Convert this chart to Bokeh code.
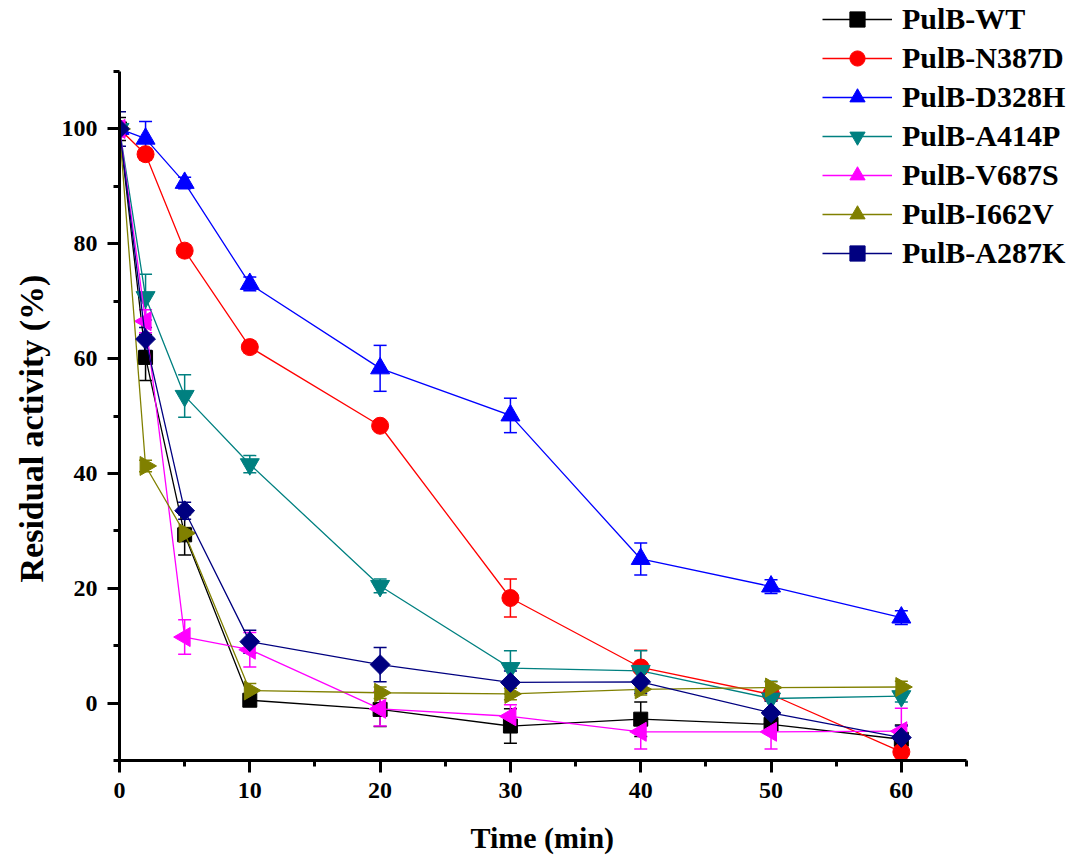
import math
from bokeh.plotting import figure
from bokeh.models import (ColumnDataSource, Whisker, TeeHead, Legend, LegendItem,
                          SingleIntervalTicker, Range1d, Title)
from bokeh.embed import file_html
from bokeh.resources import INLINE

# ---------------- data ----------------
time_min = [0, 2, 5, 10, 20, 30, 40, 50, 60]

series_names = ["PulB-WT", "PulB-N387D", "PulB-D328H", "PulB-A414P",
                "PulB-V687S", "PulB-I662V", "PulB-A287K"]

wt = [100, 60.2, 29.3, 0.5, -1.1, -4.0, -2.8, -3.7, -6.3]
wt_err = [2, 4, 3.5, 1, 3, 3, 3, 1, 2.5]

n387d = [100, 95.6, 78.8, 62.0, 48.3, 18.3, 6.2, 1.5, -8.5]
n387d_err = [1, 1, 1, 1, 0.5, 3.3, 3, 1, 1]

d328h = [100, 98.3, 90.6, 73.0, 58.3, 50.1, 25.1, 20.3, 14.9]
d328h_err = [1, 3, 1, 1.2, 4, 3, 2.8, 1.2, 1.2]

a414p = [100, 70.7, 53.5, 41.6, 20.4, 6.1, 5.6, 0.8, 1.2]
a414p_err = [1, 4, 3.7, 1.5, 1.2, 3, 3.5, 3, 1]

v687s = [100, 66.5, 11.5, 9.3, -1.0, -2.3, -5.0, -5.0, -4.9]
v687s_err = [1, 2, 3, 3, 3, 2, 3, 3, 4]

i662v = [100, 41.3, 29.6, 2.2, 1.8, 1.6, 2.4, 2.7, 2.8]
i662v_err = [1, 1, 1, 1.2, 1, 1, 1, 1, 1]

a287k = [100, 63.4, 33.5, 10.7, 6.7, 3.6, 3.7, -1.7, -6.0]
a287k_err = [3, 2, 1.5, 2, 3, 2, 2, 2, 2]

values = [wt, n387d, d328h, a414p, v687s, i662v, a287k]
errors = [wt_err, n387d_err, d328h_err, a414p_err, v687s_err, i662v_err, a287k_err]

x_label = "Time (min)"
y_label = "Residual activity (%)"

colors = ["#000000", "#FF0000", "#0000FF", "#008080", "#FF00FF", "#808000", "#000080"]
markers = ["square", "circle", "triangle", "inverted_triangle", "triangle", "triangle", "square"]
angles = [0, 0, 0, 0, math.pi / 2, -math.pi / 2, math.pi / 4]
sizes = [14, 17, 19, 19, 19, 19, 14]

# ---------------- figure ----------------
FONT = "Liberation Serif"
W, H = 1086, 859
LEFT, BOTTOM = 119, 99          # frame starts here; frame runs to the top/right edges
X_AXIS_END, Y_AXIS_START, Y_AXIS_END = 65, -10, 110
px_per_x = (966 - LEFT) / X_AXIS_END
px_per_y = (H - BOTTOM - 71) / (Y_AXIS_END - Y_AXIS_START)
x_end = (W - LEFT) / px_per_x
y_end = Y_AXIS_END + 71 / px_per_y

p = figure(width=W, height=H, output_backend="svg", toolbar_location=None,
           x_range=Range1d(0, x_end), y_range=Range1d(Y_AXIS_START, y_end),
           min_border_left=LEFT, min_border_right=0,
           min_border_top=0, min_border_bottom=BOTTOM)
p.outline_line_color = None
p.xgrid.grid_line_color = None
p.ygrid.grid_line_color = None
p.background_fill_color = "white"

p.xaxis.ticker = SingleIntervalTicker(interval=10, num_minor_ticks=2)
p.yaxis.ticker = SingleIntervalTicker(interval=20, num_minor_ticks=2)
p.xaxis.bounds = (0, X_AXIS_END)
p.yaxis.bounds = (Y_AXIS_START, Y_AXIS_END)

for ax in (p.xaxis, p.yaxis):
    ax.axis_line_width = 3
    ax.major_tick_line_width = 3
    ax.minor_tick_line_width = 3
    ax.major_tick_out = 12
    ax.major_tick_in = 0
    ax.minor_tick_out = 6
    ax.minor_tick_in = 0
    ax.major_label_text_font = FONT
    ax.major_label_text_font_style = "bold"
    ax.major_label_text_font_size = "24px"
    ax.major_label_text_color = "black"
    ax.major_label_standoff = 10

# a blank, tiny axis label on the x axis only reserves a little room,
# pushing the x title (drawn as a Title below) down to where the reference has it
p.xaxis.axis_label = " "
p.xaxis.axis_label_text_font_size = "1px"
p.xaxis.axis_label_text_color = "white"
p.xaxis.axis_label_standoff = 10

# axis titles placed next to the drawn (bounded) part of each axis
p.add_layout(Title(text=x_label, align="left", offset=470 - LEFT, standoff=8,
                   text_font=FONT, text_font_style="bold", text_font_size="30px",
                   text_color="black"), "below")
p.add_layout(Title(text=y_label, align="left", offset=(H - BOTTOM) - 582, standoff=18,
                   text_font=FONT, text_font_style="bold", text_font_size="34px",
                   text_color="black"), "left")

items = []
for name, vals, errs, c, m, a, s in zip(series_names, values, errors, colors,
                                        markers, angles, sizes):
    src = ColumnDataSource(dict(
        x=time_min, y=vals,
        upper=[v + e for v, e in zip(vals, errs)],
        lower=[v - e for v, e in zip(vals, errs)],
    ))
    lr = p.line("x", "y", source=src, line_color=c, line_width=1.3)
    w = Whisker(base="x", upper="upper", lower="lower", source=src,
                line_color=c, line_width=1.5,
                upper_head=TeeHead(size=13, line_color=c, line_width=1.5),
                lower_head=TeeHead(size=13, line_color=c, line_width=1.5))
    p.add_layout(w)
    sr = p.scatter("x", "y", source=src, marker=m, size=s, angle=a,
                   fill_color=c, line_color=c)
    items.append(LegendItem(label=name, renderers=[lr, sr]))

GLYPH_H, SPACING = 38, 1
legend_h = 7 * GLYPH_H + 6 * SPACING
legend = Legend(items=items, location=(822 - LEFT, (H - BOTTOM) - legend_h),
                glyph_width=70, glyph_height=GLYPH_H, spacing=SPACING,
                padding=0, margin=0, label_standoff=10,
                label_text_font=FONT, label_text_font_style="bold",
                label_text_font_size="30px", label_text_color="black",
                border_line_color=None, background_fill_alpha=0)
p.add_layout(legend, "center")

open("out.html", "w").write(file_html(p, INLINE))
